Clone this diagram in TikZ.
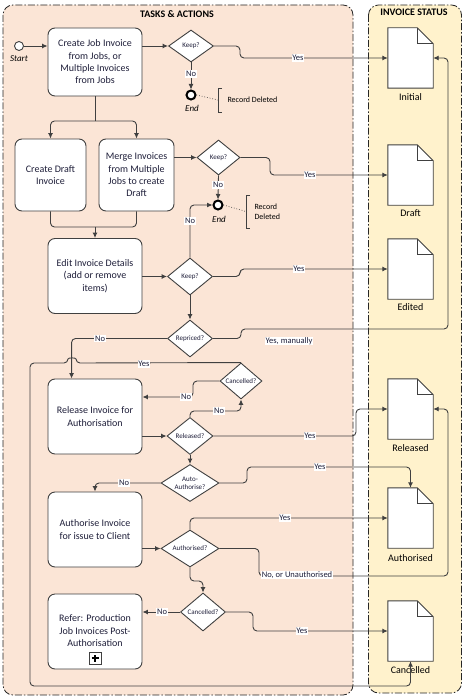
\documentclass[tikz,border=0pt]{standalone}
\usepackage{fontspec}
\setmainfont{Carlito}
\usetikzlibrary{shapes.geometric,arrows.meta}
\definecolor{lc}{HTML}{404040}
\definecolor{tc}{HTML}{1F1F3A}
\definecolor{tfill}{HTML}{FBE5D6}
\definecolor{sfill}{HTML}{FFF2CC}
\definecolor{lanec}{HTML}{262626}
\newcommand{\mydoc}[1]{%
 \filldraw[ln, fill=white] (#1.north west) -- ([xshift=-16pt]#1.north east) -- ([yshift=-16pt]#1.north east) -- (#1.south east) -- (#1.south west) -- cycle;
 \draw[ln] ([xshift=-16pt]#1.north east) |- ([yshift=-16pt]#1.north east);}
\tikzset{
 ln/.style={draw=lc, line width=0.9pt},
 arr/.style={ln, -{Latex[length=5.5pt,width=5pt]}},
 rc/.style={rounded corners=4pt},
 task/.style={draw=lc, line width=0.9pt, fill=white, rounded corners=7pt, align=center, font=\fontsize{10}{12.3}\selectfont, text=tc, inner sep=2pt},
 dec/.style={diamond, draw=lc, line width=0.9pt, fill=white, inner sep=0pt, aspect=1.5, align=center, font=\fontsize{7}{8}\selectfont, text=tc},
 lbl/.style={fill=white, inner sep=0.8pt, font=\fontsize{8.5}{9}\selectfont, text=tc},
 doclbl/.style={font=\fontsize{10}{11}\selectfont, text=black},
 docn/.style={minimum width=45pt, minimum height=60pt, inner sep=0pt},
 endc/.style={circle, draw=black, line width=2pt, fill=white, minimum size=9pt, inner sep=0pt},
 lane/.style={rounded corners=10pt, draw=lanec, line width=0.8pt, dash pattern=on 7pt off 2pt on 1.5pt off 2pt},
 lanetitle/.style={font=\bfseries\fontsize{10}{11}\selectfont, text=black},
 evt/.style={font=\itshape\fontsize{9}{10}\selectfont, text=black},
 note/.style={font=\fontsize{8}{10}\selectfont, text=black, align=left}
}
\begin{document}
\begin{tikzpicture}[x=1pt,y=-1pt]
\useasboundingbox (0,0) rectangle (464,698);
% lanes
\draw[lane, fill=tfill] (3,5) rectangle (353,695);
\draw[lane, fill=sfill] (368.5,5) rectangle (461.5,693);
\node[lanetitle] (t1) at (177,14) {TASKS \& ACTIONS};
\node[lanetitle] (t2) at (414,12) {INVOICE STATUS};

% tasks
\node[task, minimum width=94pt, minimum height=68pt] (cji) at (95,62) {Create Job Invoice\\from Jobs, or\\Multiple Invoices\\from Jobs};
\node[task, minimum width=71pt, minimum height=72pt] (cdi) at (50.5,175) {Create Draft\\Invoice};
\node[task, minimum width=75pt, minimum height=72pt] (mrg) at (136.5,175) {Merge Invoices\\from Multiple\\Jobs to create\\Draft};
\node[task, minimum width=94pt, minimum height=75pt] (edt) at (95,276) {Edit Invoice Details\\(add or remove\\items)};
\node[task, minimum width=94pt, minimum height=75pt] (rls) at (95,416.5) {Release Invoice for\\Authorisation};
\node[task, minimum width=94pt, minimum height=75pt] (ath) at (95,529.5) {Authorise Invoice\\for issue to Client};
\node[task, minimum width=94pt, minimum height=75pt] (ref) at (95,631.5) {};
\node[font=\fontsize{10}{12.5}\selectfont, text=tc, align=center] (reft) at (95,631) {Refer: Production\\Job Invoices Post-\\Authorisation};
\node[draw=lc, line width=0.8pt, fill=white, minimum size=12pt, inner sep=0pt] (plus) at (95,658) {};
\draw[line width=1.4pt, black] ([xshift=-3.5pt]plus.center) -- ([xshift=3.5pt]plus.center);
\draw[line width=1.4pt, black] ([yshift=-3.5pt]plus.center) -- ([yshift=3.5pt]plus.center);

% decisions
\node[dec, minimum width=45pt, minimum height=32pt] (k1) at (191,46) {Keep?};
\node[dec, minimum width=43pt, minimum height=35pt] (k2) at (218.5,157.5) {Keep?};
\node[dec, minimum width=45pt, minimum height=37pt] (k3) at (190,276.5) {Keep?};
\node[dec, minimum width=45pt, minimum height=37pt] (rep) at (190,338.5) {Repriced?};
\node[dec, minimum width=42pt, minimum height=36pt] (c1) at (241,381) {Cancelled?};
\node[dec, minimum width=46pt, minimum height=37pt] (rel) at (190,436) {Released?};
\node[dec, minimum width=58pt, minimum height=37pt] (aa) at (190,483) {Auto-\\Authorise?};
\node[dec, minimum width=58pt, minimum height=37pt] (aq) at (190,548.5) {Authorised?};
\node[dec, minimum width=45pt, minimum height=38pt] (c2) at (203,612) {Cancelled?};

% events
\node[circle, draw=lc, fill=white, minimum size=9pt, inner sep=0pt, line width=0.9pt] (st) at (19,46) {};
\node[evt] (stl) at (19,59) {Start};
\node[endc] (e1) at (191,95) {};
\node[evt] (e1l) at (192,108) {End};
\node[endc] (e2) at (218,205) {};
\node[evt] (e2l) at (219,219) {End};

% documents
\node[docn] (dI) at (410.5,58) {};
\node[docn] (dD) at (410.5,175) {};
\node[docn] (dE) at (410.5,269) {};
\node[docn] (dR) at (410.5,409) {};
\node[docn] (dA) at (410.5,518) {};
\node[docn] (dC) at (410.5,631) {};
\mydoc{dI}\mydoc{dD}\mydoc{dE}\mydoc{dR}\mydoc{dA}\mydoc{dC}
\node[doclbl] (lI) at (410.5,97) {Initial};
\node[doclbl] (lD) at (410.5,213) {Draft};
\node[doclbl] (lE) at (410.5,307) {Edited};
\node[doclbl] (lR) at (410.5,448) {Released};
\node[doclbl] (lA) at (410.5,558) {Authorised};
\node[doclbl] (lC) at (410.5,670) {Cancelled};

% annotations
\coordinate (b1) at (218,100);
\draw[ln, line width=0.7pt] (b1) ++(4,-12) -- ++(-4,0) -- ++(0,24) -- ++(4,0);
\draw[lc, dotted, line width=0.7pt] (e1.east) -- (b1);
\node[note, anchor=west] (n1) at (224,100) {Record Deleted};
\coordinate (b2) at (246,211.5);
\draw[ln, line width=0.7pt] (b2) ++(4,-16.5) -- ++(-4,0) -- ++(0,33) -- ++(4,0);
\draw[lc, dotted, line width=0.7pt] (e2.east) -- (b2);
\node[note, anchor=west] (n2) at (251,211.5) {Record\\Deleted};

% connectors
\draw[arr] (st) -- (cji.west |- st);
\draw[arr] (cji.east |- k1) -- (k1.west);
\draw[arr] (k1.south) -- (e1.north);
\draw[arr, rc] (k1.east) -- (240,46) -- (240,58) -- (dI.west);
\coordinate (s1) at (95,121);
\draw[ln] (cji.south) -- (s1);
\draw[arr, rc] (s1) -| (cdi.north);
\draw[arr, rc] (s1) -| (mrg.north);
\coordinate (j1) at (95,227);
\draw[ln, rc] (cdi.south) |- (j1);
\draw[ln, rc] (mrg.south) |- (j1);
\draw[arr] (j1) -- (edt.north);
\draw[arr] (mrg.east |- k2) -- (k2.west);
\draw[arr] (k2.south) -- (e2.north);
\draw[arr, rc] (k2.east) -- (270,157.5) -- (270,175) -- (dD.west);
\draw[arr] (edt.east |- k3) -- (k3.west);
\draw[arr, rc] (k3.north) |- (e2.west);
\draw[arr, rc] (k3.east) -- (240,276.5) -- (240,269) -- (dE.west);
\draw[arr] (k3.south) -- (rep.north);
\draw[arr, rc] (rep.west) -| ([xshift=24pt]rls.north west);
\draw[arr, rc] (rep.east) -- (241,338.5) -- (241,329) -- (448,329) -- (448,58) -- (dI.east);
\draw[arr, rc] (c1.north) -- (76,363) .. controls (76,357.5) and (68,357.5) .. (68,363) -- (30,363) -- (30,686) -- (410.5,686) -- (dC.south);
\draw[arr, rc] (c1.west) -- (193,381) -- (193,397) -- ([yshift=19.5pt]rls.east);
\draw[arr] (rls.east |- rel) -- (rel.west);
\draw[arr, rc] (rel.north) -- (190,411) -- (241,411) -- (c1.south);
\draw[arr, rc] (rel.east) -- (356,436) -- (356,409) -- (dR.west);
\draw[arr] (rel.south) -- (aa.north);
\draw[arr, rc] (aa.west) -| (ath.north);
\draw[arr, rc] (aa.east) -- (247,483) -- (247,467) -| (dA.north);
\draw[arr] (ath.east |- aq) -- (aq.west);
\draw[arr, rc] (aq.north) |- (dA.west);
\draw[arr, rc] (aq.east) -- (259,548.5) -- (259,576) -- (448,576) -- (448,409) -- (dR.east);
\draw[arr, rc] (aq.south) -- (190,581) -| (c2.north);
\draw[arr] (c2.west) -- ([yshift=19.5pt]ref.east);
\draw[arr, rc] (c2.east) -- (253,612) -- (253,631) -- (dC.west);

% connector labels
\node[lbl] (y1) at (298,58) {Yes};
\node[lbl] (n1l) at (191,74) {No};
\node[lbl] (y2) at (310,175) {Yes};
\node[lbl] (n2l) at (218,185) {No};
\node[lbl] (n3l) at (190,221) {No};
\node[lbl] (y3) at (299,269) {Yes};
\node[lbl] (n4l) at (100,338.5) {No};
\node[lbl] (y4) at (289,341) {Yes, manually};
\node[lbl] (y5) at (144,364) {Yes};
\node[lbl] (n5l) at (186,397) {No};
\node[lbl] (n6l) at (219,411) {No};
\node[lbl] (y6) at (310,436) {Yes};
\node[lbl] (n7l) at (124,483) {No};
\node[lbl] (y7) at (320,467) {Yes};
\node[lbl] (y8) at (285,518) {Yes};
\node[lbl] (n8l) at (297,575) {No, or Unauthorised};
\node[lbl] (n9l) at (162,612) {No};
\node[lbl] (y9) at (302,631) {Yes};
\end{tikzpicture}
\end{document}
